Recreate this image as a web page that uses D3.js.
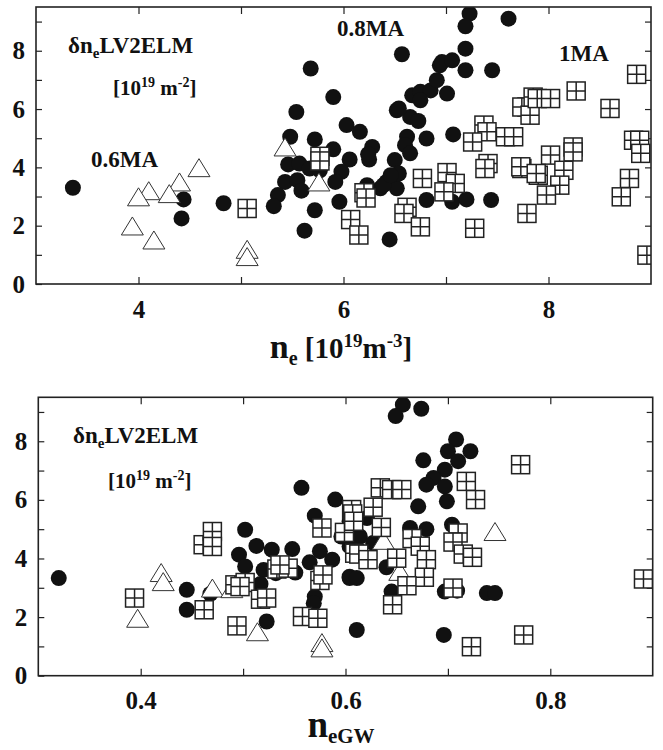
<!DOCTYPE html>
<html>
<head>
<meta charset="utf-8">
<script src="https://cdn.jsdelivr.net/npm/d3@7"></script>
<style>
  html, body { margin: 0; padding: 0; background: #fff; }
  svg { display: block; }
  text { font-family: "Liberation Serif", "Times New Roman", serif; font-weight: bold; fill: #111; }
</style>
</head>
<body>
<svg id="chart" width="663" height="750"></svg>
<script>
// ---- Panel (a): density fluctuation vs line-averaged density n_e [10^19 m^-3]
const neTicks = [4, 5, 6, 7, 8];
const neTickLabels = ["4", "", "6", "", "8"];
const dnTicks = [0, 1, 2, 3, 4, 5, 6, 7, 8, 9];
const dnTickLabels = ["0", "", "2", "", "4", "", "6", "", "8", ""];

// 0.8 MA discharges (filled circles)
const neCircles = [
  [3.36, 3.30], [4.44, 2.90], [4.42, 2.25], [4.83, 2.77], [5.68, 7.39], [5.54, 5.90],
  [5.48, 5.05], [5.72, 4.96], [5.46, 4.10], [5.57, 4.13], [5.67, 3.96], [5.77, 3.90],
  [5.43, 3.50], [5.55, 3.56], [5.59, 3.20], [5.36, 3.05], [5.32, 2.67], [5.72, 2.53],
  [5.62, 1.83], [5.90, 6.41], [6.03, 5.45], [6.16, 5.22], [6.52, 5.96], [6.65, 5.73],
  [6.73, 5.59], [6.67, 6.47], [6.75, 6.59], [6.85, 6.64], [6.91, 6.99], [6.94, 7.50],
  [5.90, 4.62], [6.28, 4.70], [6.62, 5.05], [6.81, 4.99], [6.06, 4.27], [6.25, 4.27],
  [5.98, 3.85], [5.92, 3.50], [5.96, 2.82], [6.45, 1.53], [6.23, 3.39], [6.42, 3.50],
  [6.50, 4.25], [6.52, 3.28], [6.36, 3.28], [6.54, 3.79], [6.60, 4.76], [6.65, 4.48],
  [6.57, 7.88], [7.23, 9.27], [7.61, 9.10], [7.19, 8.84], [7.19, 8.07], [7.45, 7.33],
  [7.19, 7.33], [6.96, 7.61], [7.06, 7.67], [7.01, 6.53], [6.75, 6.30], [6.54, 6.02],
  [7.07, 5.13], [6.24, 4.45], [6.81, 2.88], [7.06, 2.82], [7.20, 2.90], [7.44, 2.88],
  [6.39, 3.39], [6.46, 3.73]
];
// 1 MA discharges (crossed squares)
const neSquares = [
  [5.06, 2.59], [5.77, 4.38], [5.77, 4.22], [6.20, 3.13], [6.22, 2.95], [6.07, 2.21],
  [6.15, 1.68], [6.77, 3.62], [6.62, 2.63], [6.59, 2.42], [6.75, 1.96], [7.01, 3.82],
  [7.09, 3.45], [6.98, 3.16], [7.28, 1.91], [7.37, 5.45], [7.40, 5.22], [7.26, 4.87],
  [7.58, 5.05], [7.66, 5.05], [7.41, 4.13], [7.38, 3.96], [7.74, 3.96], [7.79, 6.07],
  [7.74, 6.07], [7.82, 5.79], [7.85, 6.41], [7.89, 6.36], [8.02, 6.36], [8.27, 6.62],
  [8.60, 6.02], [8.86, 7.19], [8.02, 4.42], [8.24, 4.70], [8.24, 4.53], [7.90, 3.73],
  [8.15, 3.90], [8.11, 3.39], [7.98, 3.05], [7.79, 2.42], [8.79, 3.62], [8.71, 2.99],
  [8.83, 4.93], [8.89, 4.93], [8.90, 4.48], [8.96, 0.99], [7.73, 4.02], [7.88, 3.79]
];
// 0.6 MA discharges (open triangles)
const neTriangles = [
  [4.59, 3.99], [4.40, 3.50], [4.30, 3.10], [4.10, 3.20], [4.00, 2.99], [3.94, 1.99],
  [4.15, 1.51], [5.06, 1.19], [5.06, 0.94], [5.43, 4.70], [5.76, 3.50]
];

// ---- Panel (b): same fluctuation vs Greenwald fraction n_eGW
const gwTicks = [0.4, 0.5, 0.6, 0.7, 0.8];
const gwTickLabels = ["0.4", "", "0.6", "", "0.8"];

const gwCircles = [
  [0.320, 3.33], [0.445, 2.93], [0.445, 2.25], [0.468, 2.79], [0.502, 4.98], [0.496, 4.13],
  [0.502, 3.73], [0.513, 4.43], [0.528, 4.30], [0.548, 4.32], [0.520, 3.61], [0.517, 3.13],
  [0.523, 1.85], [0.532, 3.50], [0.551, 3.52], [0.557, 6.41], [0.570, 5.46], [0.565, 3.87],
  [0.575, 4.25], [0.587, 3.96], [0.570, 2.70], [0.569, 2.47], [0.590, 6.01], [0.604, 3.38],
  [0.611, 1.56], [0.656, 9.25], [0.649, 8.86], [0.674, 9.11], [0.708, 8.06], [0.722, 7.66],
  [0.700, 7.66], [0.710, 7.32], [0.676, 7.35], [0.697, 7.03], [0.686, 6.75], [0.679, 6.52],
  [0.697, 6.46], [0.699, 5.95], [0.671, 5.78], [0.704, 5.15], [0.663, 5.04], [0.679, 5.00],
  [0.640, 3.70], [0.604, 3.33], [0.611, 3.33], [0.645, 2.87], [0.697, 2.87], [0.709, 2.90],
  [0.738, 2.82], [0.746, 2.82], [0.696, 1.39], [0.604, 5.27], [0.621, 5.38], [0.596, 4.75],
  [0.614, 4.75], [0.604, 4.41], [0.627, 4.53]
];
const gwSquares = [
  [0.394, 2.65], [0.461, 4.47], [0.470, 4.92], [0.470, 4.41], [0.462, 2.25], [0.494, 1.70],
  [0.492, 3.10], [0.502, 3.18], [0.497, 3.04], [0.517, 2.61], [0.523, 2.65], [0.533, 3.64],
  [0.544, 3.67], [0.536, 3.78], [0.558, 2.02], [0.573, 1.96], [0.575, 3.25], [0.578, 3.44],
  [0.577, 5.04], [0.599, 4.89], [0.606, 5.67], [0.609, 4.18], [0.634, 6.41], [0.645, 6.35],
  [0.655, 6.35], [0.718, 6.63], [0.727, 6.01], [0.627, 5.75], [0.607, 5.52], [0.608, 5.27],
  [0.635, 5.06], [0.665, 4.68], [0.673, 4.42], [0.679, 3.96], [0.613, 4.15], [0.622, 3.96],
  [0.650, 4.01], [0.677, 3.36], [0.660, 3.07], [0.646, 2.42], [0.705, 2.99], [0.710, 4.87],
  [0.705, 4.56], [0.715, 4.15], [0.724, 4.04], [0.771, 7.20], [0.891, 3.30], [0.774, 1.39],
  [0.723, 0.99]
];
const gwTriangles = [
  [0.420, 3.52], [0.422, 3.21], [0.397, 1.96], [0.470, 2.99], [0.489, 2.97], [0.514, 1.50],
  [0.577, 1.13], [0.577, 0.95], [0.746, 4.92], [0.637, 4.62], [0.653, 3.56]
];

const svg = d3.select("#chart");

function drawPanel(p) {
  const x = d3.scaleLinear().domain(p.xDomain).range([p.left, p.right]);
  const y = d3.scaleLinear().domain([0, 9.5]).range([p.bottom, p.top]);
  const g = svg.append("g");

  // inward ticks on all four sides
  const bottomAxis = d3.axisBottom(x).tickValues(p.xTicks).tickSize(-7).tickPadding(16)
    .tickFormat((d, i) => p.xTickLabels[i]);
  const topAxis = d3.axisTop(x).tickValues(p.xTicks).tickSize(-7).tickFormat("");
  const leftAxis = d3.axisLeft(y).tickValues(dnTicks).tickSize(-6).tickPadding(11)
    .tickFormat((d, i) => dnTickLabels[i]);
  const rightAxis = d3.axisRight(y).tickValues(dnTicks.slice(1)).tickSize(-6).tickFormat("");

  const axes = [
    [bottomAxis, `translate(0,${p.bottom})`],
    [topAxis, `translate(0,${p.top})`],
    [leftAxis, `translate(${p.left},0)`],
    [rightAxis, `translate(${p.right},0)`]
  ];
  axes.forEach(([ax, tr]) => {
    const a = g.append("g").attr("transform", tr).call(ax);
    a.select(".domain").remove();
    a.selectAll(".tick line").attr("stroke", "#222").attr("stroke-width", 1.2);
    a.selectAll(".tick text").attr("font-size", 25).attr("fill", "#111")
      .attr("font-family", "Liberation Serif, serif").attr("font-weight", "bold");
  });

  // markers, clipped to the frame
  const clipId = "clip" + p.id;
  svg.append("clipPath").attr("id", clipId).append("rect")
    .attr("x", p.left).attr("y", p.top).attr("width", p.right - p.left).attr("height", p.bottom - p.top);
  const m = g.append("g").attr("clip-path", `url(#${clipId})`);

  m.selectAll("circle.pt").data(p.circles).join("circle")
    .attr("class", "pt")
    .attr("cx", d => x(d[0])).attr("cy", d => y(d[1])).attr("r", 8)
    .attr("fill", "#111");

  m.selectAll("path.tri").data(p.triangles).join("path")
    .attr("class", "tri")
    .attr("d", d => {
      const cx = x(d[0]), cy = y(d[1]);
      return `M${cx},${cy - 9}L${cx + 11},${cy + 9}L${cx - 11},${cy + 9}Z`;
    })
    .attr("fill", "#fff").attr("stroke", "#333").attr("stroke-width", 1);

  const sq = 18;
  const sqG = m.selectAll("g.sq").data(p.squares).join("g")
    .attr("class", "sq")
    .attr("transform", d => `translate(${x(d[0])},${y(d[1])})`);
  sqG.append("rect")
    .attr("x", -sq / 2).attr("y", -sq / 2).attr("width", sq).attr("height", sq)
    .attr("fill", "#fff").attr("stroke", "#222").attr("stroke-width", 1.5);
  sqG.append("path")
    .attr("d", `M${-sq / 2},0H${sq / 2}M0,${-sq / 2}V${sq / 2}`)
    .attr("stroke", "#222").attr("stroke-width", 1.5);

  // frame
  g.append("rect")
    .attr("x", p.left).attr("y", p.top)
    .attr("width", p.right - p.left).attr("height", p.bottom - p.top)
    .attr("fill", "none").attr("stroke", "#222").attr("stroke-width", 1.6);

  // quantity label
  const q = g.append("text").attr("x", p.qx).attr("y", p.qy).attr("font-size", 23);
  q.append("tspan").text("δn");
  q.append("tspan").attr("font-size", 15).attr("dy", 5).text("e");
  q.append("tspan").attr("dy", -5).text("LV2ELM");

  const u = g.append("text").attr("x", p.ux).attr("y", p.uy).attr("font-size", 21);
  u.append("tspan").text("[10");
  u.append("tspan").attr("font-size", 14).attr("dy", -8).text("19");
  u.append("tspan").attr("dy", 8).text(" m");
  u.append("tspan").attr("font-size", 14).attr("dy", -8).text("-2");
  u.append("tspan").attr("dy", 8).text("]");

  return { x, y, g };
}

// top panel
const panelA = drawPanel({
  id: "a", left: 36, right: 651, top: 7, bottom: 284,
  xDomain: [3, 9], xTicks: neTicks, xTickLabels: neTickLabels,
  circles: neCircles, squares: neSquares, triangles: neTriangles,
  qx: 68, qy: 53, ux: 113, uy: 95
});
[["0.6MA", 91, 167], ["0.8MA", 337, 36], ["1MA", 559, 61]].forEach(([t, xx, yy]) => {
  panelA.g.append("text").attr("x", xx).attr("y", yy).attr("font-size", 23).text(t);
});
const titleA = panelA.g.append("text").attr("x", 341).attr("y", 358)
  .attr("text-anchor", "middle").attr("font-size", 29);
titleA.append("tspan").attr("font-size", 34).text("n");
titleA.append("tspan").attr("font-size", 20).attr("dy", 7).text("e");
titleA.append("tspan").attr("dy", -7).text(" [10");
titleA.append("tspan").attr("font-size", 19).attr("dy", -11).text("19");
titleA.append("tspan").attr("dy", 11).text("m");
titleA.append("tspan").attr("font-size", 19).attr("dy", -11).text("-3");
titleA.append("tspan").attr("dy", 11).text("]");

// bottom panel
const panelB = drawPanel({
  id: "b", left: 38.3, right: 652.7, top: 397.3, bottom: 675.7,
  xDomain: [0.3, 0.9], xTicks: gwTicks, xTickLabels: gwTickLabels,
  circles: gwCircles, squares: gwSquares, triangles: gwTriangles,
  qx: 73, qy: 443, ux: 108, uy: 488
});
const titleB = panelB.g.append("text").attr("x", 341).attr("y", 737)
  .attr("text-anchor", "middle");
titleB.append("tspan").attr("font-size", 37).text("n");
titleB.append("tspan").attr("font-size", 21).attr("dy", 6).text("eGW");
</script>
</body>
</html>
